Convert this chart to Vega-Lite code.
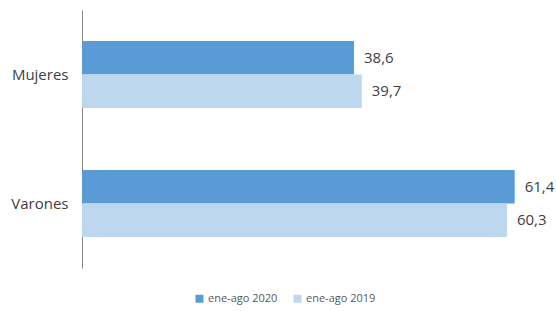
{
  "$schema": "https://vega.github.io/schema/vega-lite/v6.json",
  "width": 463,
  "height": 258,
  "autosize": "none",
  "padding": {"left": 82, "top": 10, "right": 11, "bottom": 43},
  "background": "white",
  "config": {"view": {"stroke": null}, "font": "Liberation Sans"},
  "data": {
    "values": [
      {"sexo": "Mujeres", "periodo": "ene-ago 2020", "valor": 38.6},
      {"sexo": "Mujeres", "periodo": "ene-ago 2019", "valor": 39.7},
      {"sexo": "Varones", "periodo": "ene-ago 2020", "valor": 61.4},
      {"sexo": "Varones", "periodo": "ene-ago 2019", "valor": 60.3}
    ]
  },
  "encoding": {
    "y": {
      "field": "sexo", "type": "nominal", "sort": ["Mujeres", "Varones"],
      "scale": {"paddingInner": 0.48, "paddingOuter": 0.24},
      "axis": {"title": null, "ticks": false, "labelPadding": 14, "labelFontSize": 15, "labelColor": "#404040", "domainColor": "#868686", "labelFont": "Open Sans"}
    },
    "yOffset": {"field": "periodo", "type": "nominal", "sort": ["ene-ago 2020", "ene-ago 2019"], "scale": {"paddingInner": 0, "paddingOuter": 0}},
    "x": {"field": "valor", "type": "quantitative", "scale": {"domain": [0, 65.7], "nice": false}, "axis": null}
  },
  "layer": [
    {
      "mark": {"type": "bar"},
      "encoding": {
        "color": {
          "field": "periodo", "type": "nominal",
          "sort": ["ene-ago 2020", "ene-ago 2019"],
          "scale": {"domain": ["ene-ago 2020", "ene-ago 2019"], "range": ["#5B9BD5", "#BDD7EE"]},
          "legend": {"title": null, "orient": "none", "direction": "horizontal", "legendX": 112, "legendY": 283, "symbolType": "square", "symbolSize": 64, "symbolStrokeWidth": 0, "labelFontSize": 11, "labelColor": "#595959", "labelFont": "Open Sans", "columnPadding": 14, "labelOffset": 3}
        }
      }
    },
    {
      "mark": {"type": "text", "align": "left", "dx": 10, "fontSize": 15, "color": "#404040", "font": "Open Sans"},
      "encoding": {"text": {"field": "valor", "type": "quantitative", "format": ",.1f", "formatType": "number"}}
    }
  ],
  "usermeta": {"embedOptions": {"formatLocale": {"decimal": ",", "thousands": ".", "grouping": [3], "currency": ["", "€"]}}}
}
